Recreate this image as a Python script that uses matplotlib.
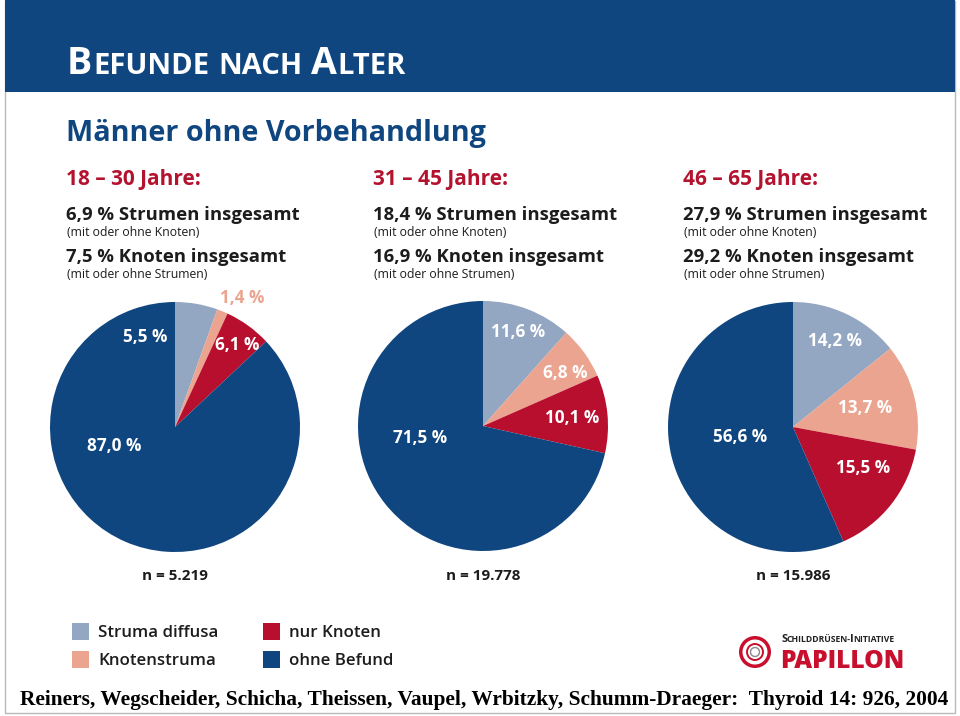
import matplotlib
matplotlib.use("Agg")
import matplotlib.pyplot as plt
from matplotlib.patches import Rectangle, Circle

# ---------------- data ----------------
categories = ["Struma diffusa", "Knotenstruma", "nur Knoten", "ohne Befund"]
age_groups = ["18 – 30 Jahre:", "31 – 45 Jahre:", "46 – 65 Jahre:"]
vals_18_30 = [5.5, 1.4, 6.1, 87.0]
vals_31_45 = [11.6, 6.8, 10.1, 71.5]
vals_46_65 = [14.2, 13.7, 15.5, 56.6]
strumen_total = [6.9, 18.4, 27.9]
knoten_total = [7.5, 16.9, 29.2]
n_values = ["5.219", "19.778", "15.986"]

# ---------------- style ----------------
colors = ["#94a7c2", "#eba48f", "#b80f2e", "#10467f"]
DARK = "#10467f"
RED_TXT = "#b3132f"
TXT = "#1c1c1c"
FONT = "Open Sans"

W, H = 960, 716
fig = plt.figure(figsize=(W / 100, H / 100), dpi=100)
fig.patch.set_facecolor("white")
bg = fig.add_axes([0, 0, 1, 1])
bg.set_xlim(0, W)
bg.set_ylim(H, 0)
bg.axis("off")
R = fig.canvas.get_renderer()


def fmt(v):
    return f"{v:.1f}".replace(".", ",")


def put(x, y, s, size, target_w=None, **kw):
    kw.setdefault("family", FONT)
    kw.setdefault("va", "baseline")
    t = bg.text(x, y, s, fontsize=size, **kw)
    if target_w:
        w = t.get_window_extent(R).width
        t.set_fontsize(size * target_w / w)
    return t


def smallcaps(x, y, s, big, small, color, weight="bold", family=FONT, gap=0.0):
    """Draw text in small caps by sequential runs."""
    runs = []
    for ch in s:
        if ch == " ":
            runs.append((" ", None))
            continue
        kind = "big" if ch.isupper() else "small"
        if runs and runs[-1][1] == kind:
            runs[-1] = (runs[-1][0] + ch.upper(), kind)
        else:
            runs.append((ch.upper(), kind))
    cx = x
    for txt, kind in runs:
        if kind is None:
            cx += big * 0.30
            continue
        t = bg.text(cx, y, txt, fontsize=big if kind == "big" else small,
                    color=color, fontweight=weight, family=family, va="baseline")
        cx += t.get_window_extent(R).width + big * gap
    return cx


# frame
bg.add_patch(Rectangle((4.5, 0.5), 950.5, 712.5, fill=False, ec="#b9b9b9", lw=1.0))
# header band
bg.add_patch(Rectangle((5, 0), 950, 92, color=DARK, lw=0))
smallcaps(67, 74, "Befunde nach Alter", 27, 21, "white", gap=0.03)

put(66, 141, "Männer ohne Vorbehandlung", 22, target_w=418, color=DARK, fontweight="bold")

# ---------------- columns ----------------
col_x = [66, 373, 683]
pie_centers = [(175, 427), (483, 426), (793, 427)]
RAD = 125
pie_vals = [vals_18_30, vals_31_45, vals_46_65]

# label positions in pie units (layout)
label_pos = [
    [(-0.24, 0.72), (0.54, 1.03), (0.50, 0.66), (-0.49, -0.15)],
    [(0.28, 0.75), (0.66, 0.42), (0.71, 0.06), (-0.50, -0.10)],
    [(0.34, 0.69), (0.58, 0.15), (0.56, -0.33), (-0.42, -0.08)],
]
label_col = [
    ["white", colors[1], "white", "white"],
    ["white", "white", "white", "white"],
    ["white", "white", "white", "white"],
]

for i in range(3):
    x0 = col_x[i]
    put(x0, 185, age_groups[i], 16.5, target_w=135, color=RED_TXT, fontweight="bold")
    put(x0, 220, f"{fmt(strumen_total[i])} % Strumen insgesamt", 13.3,
        color=TXT, fontweight="bold")
    put(x0 + 1, 236, "(mit oder ohne Knoten)", 8.8, color=TXT)
    put(x0, 262, f"{fmt(knoten_total[i])} % Knoten insgesamt", 13.3,
        color=TXT, fontweight="bold")
    put(x0 + 1, 278, "(mit oder ohne Strumen)", 8.8, color=TXT)

    cx, cy = pie_centers[i]
    ax = fig.add_axes([(cx - RAD) / W, 1 - (cy + RAD) / H, 2 * RAD / W, 2 * RAD / H])
    ax.pie(pie_vals[i], colors=colors, startangle=90, counterclock=False,
           radius=1, wedgeprops=dict(linewidth=0))
    ax.set_xlim(-1, 1)
    ax.set_ylim(-1, 1)
    ax.set_aspect("equal")
    ax.axis("off")
    for j, v in enumerate(pie_vals[i]):
        lx, ly = label_pos[i][j]
        ax.text(lx, ly, f"{fmt(v)} %", ha="center", va="center", fontsize=12.3,
                fontweight="bold", color=label_col[i][j], family=FONT,
                clip_on=False)
    put(cx, 580, f"n = {n_values[i]}", 11, color=TXT, fontweight="bold", ha="center")

# ---------------- legend ----------------
leg_x = [72, 263]
leg_y = [631, 659]
for k, name in enumerate(categories):
    col, row = k // 2, k % 2
    lx, ly = leg_x[col], leg_y[row]
    bg.add_patch(Rectangle((lx, ly - 8), 17, 17, color=colors[k], lw=0))
    put(lx + 26, ly + 6, name, 12.2, color=TXT, va="baseline", fontweight="semibold")

# ---------------- logo ----------------
lc = (755, 652)
bg.add_patch(Circle(lc, 16, color="#c8102e", lw=0))
bg.add_patch(Circle(lc, 12.5, color="white", lw=0))
bg.add_patch(Circle(lc, 8, fill=False, ec="#c8102e", lw=1.4))
bg.add_patch(Circle(lc, 4.5, fill=False, ec="#8a8a8a", lw=1.0))
smallcaps(781, 642, "Schilddrüsen-Initiative", 8.0, 6.2, "#222222", gap=-0.05)
put(780, 668, "PAPILLON", 16, target_w=125, color="#c8102e", fontweight="black")

# ---------------- citation ----------------
put(20, 705, "Reiners, Wegscheider, Schicha, Theissen, Vaupel, Wrbitzky, Schumm-Draeger:  Thyroid 14: 926, 2004",
    15, target_w=928, color="black", fontweight="bold", family="Liberation Serif")

fig.savefig("out.png", dpi=100)
